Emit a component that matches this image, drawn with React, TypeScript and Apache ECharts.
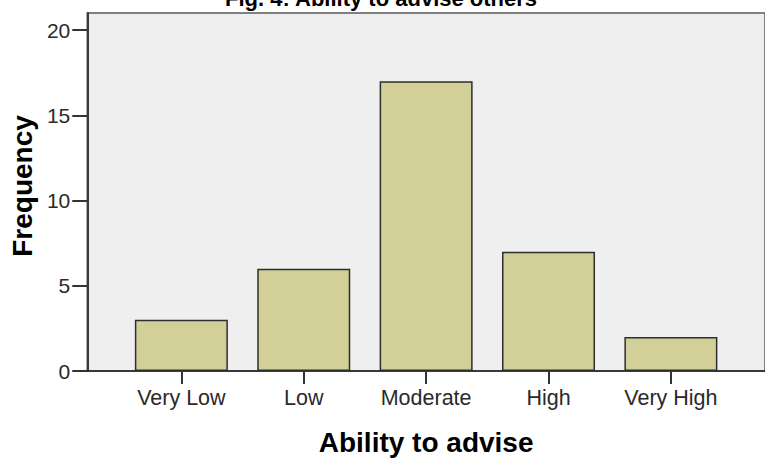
import React, { useEffect, useRef } from "react";
import * as echarts from "echarts";

const categories = ["Very Low", "Low", "Moderate", "High", "Very High"];
const frequencies = [3, 6, 17, 7, 2];
const yTicks = [0, 5, 10, 15, 20];
const titleText = "Fig. 4: Ability to advise others";
const xTitle = "Ability to advise";
const yTitle = "Frequency";

export default function App() {
  const ref = useRef<HTMLDivElement>(null);
  useEffect(() => {
    if (!ref.current) return;
    const chart = echarts.init(ref.current, undefined, { renderer: "svg" });
    const font = "'Liberation Sans', Arial, sans-serif";
    const catIdx = categories.map((_, i) => i);
    chart.setOption({
      animation: false,
      backgroundColor: "#ffffff",
      title: {
        text: titleText,
        left: 376,
        top: -18,
        textAlign: "center",
        textStyle: { fontFamily: font, fontSize: 22, fontWeight: "bold", color: "#000" },
      },
      grid: {
        left: 87,
        top: 13,
        right: -6,
        bottom: 96,
        show: true,
        backgroundColor: "#efefef",
        borderColor: "#5a5a5a",
        borderWidth: 1.5,
      },
      xAxis: {
        type: "value",
        min: -0.769,
        max: 4.769,
        name: xTitle,
        nameLocation: "middle",
        nameGap: 57,
        nameTextStyle: { fontFamily: font, fontSize: 28, fontWeight: "bold", color: "#000" },
        splitLine: { show: false },
        axisLine: { show: true, onZero: false, lineStyle: { color: "#222", width: 1.5 } },
        axisTick: {
          show: true,
          customValues: catIdx,
          length: 13,
          lineStyle: { color: "#333", width: 2 },
        },
        axisLabel: {
          customValues: catIdx,
          margin: 16,
          fontFamily: font,
          fontSize: 21.5,
          color: "#2a2a2a",
          formatter: (v: number) => categories[Math.round(v)] ?? "",
        },
      },
      yAxis: {
        type: "value",
        min: 0,
        max: 21,
        name: yTitle,
        nameLocation: "middle",
        nameGap: 50,
        nameRotate: 90,
        nameTextStyle: { fontFamily: font, fontSize: 28, fontWeight: "bold", color: "#000", padding: [0, 0, 0, 12] },
        splitLine: { show: false },
        axisLine: { show: true, onZero: false, lineStyle: { color: "#3a3a3a", width: 2 } },
        axisTick: {
          show: true,
          customValues: yTicks,
          length: 15,
          lineStyle: { color: "#333", width: 2 },
        },
        axisLabel: {
          customValues: yTicks,
          margin: 17,
          fontFamily: font,
          fontSize: 21,
          color: "#2a2a2a",
        },
      },
      series: [
        {
          type: "bar",
          data: frequencies.map((f, i) => [i, f]),
          barWidth: 93,
          itemStyle: { color: "#d3cf98", borderColor: "#2e2e2e", borderWidth: 1.5 },
        },
      ],
    });
    return () => chart.dispose();
  }, []);
  return (
    <div
      ref={ref}
      style={{ position: "absolute", left: 0, top: 0, width: 765, height: 467 }}
    />
  );
}
